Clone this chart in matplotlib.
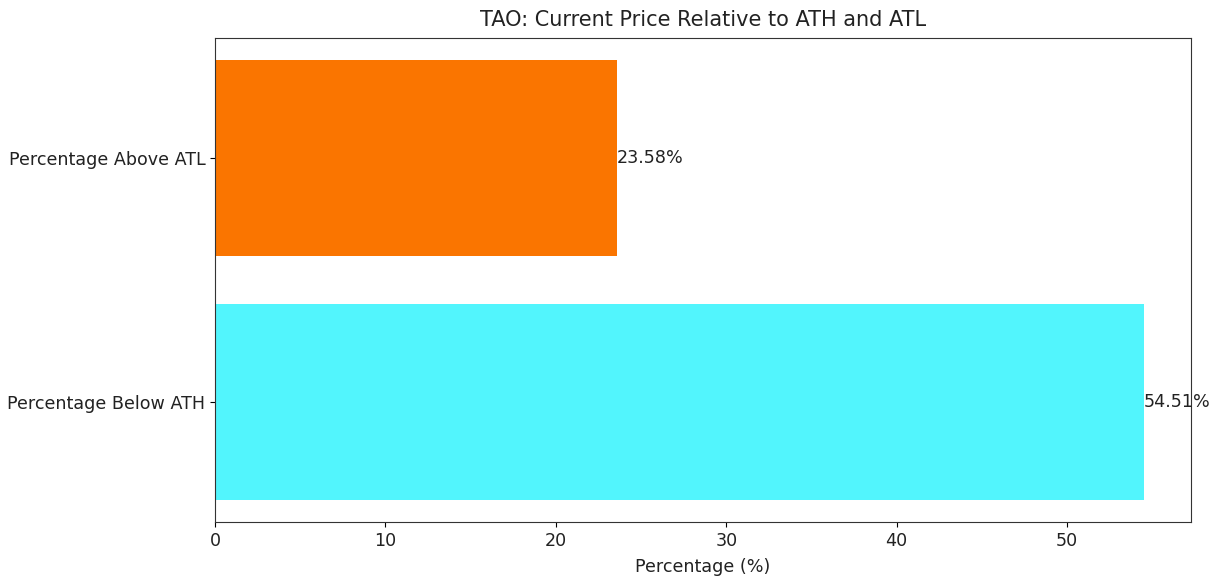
import matplotlib
matplotlib.use("Agg")
import matplotlib.pyplot as plt

categories = ["Percentage Below ATH", "Percentage Above ATL"]
values = [54.51, 23.58]
colors = ["#52f5fd", "#fa7500"]
title = "TAO: Current Price Relative to ATH and ATL"

W, H = 1223, 585
fig = plt.figure(figsize=(W / 100, H / 100), dpi=100)
ax = fig.add_axes([215 / W, 1 - 522 / H, (1190.5 - 215) / W, (522 - 38) / H])

bars = ax.barh(categories, values, color=colors)
for b, v in zip(bars, values):
    ax.text(b.get_width(), b.get_y() + b.get_height() / 2, f"{v:.2f}%",
            ha="left", va="center", fontsize=12.6, color="#222222")

ax.set_title(title, fontsize=15, pad=9, color="#222222")
ax.set_xlabel("Percentage (%)", fontsize=12.6, color="#222222", labelpad=6)
ax.tick_params(labelsize=12.6, labelcolor="#222222")
for s in ax.spines.values():
    s.set_color("#333333")
fig.savefig("out.png", dpi=100)
